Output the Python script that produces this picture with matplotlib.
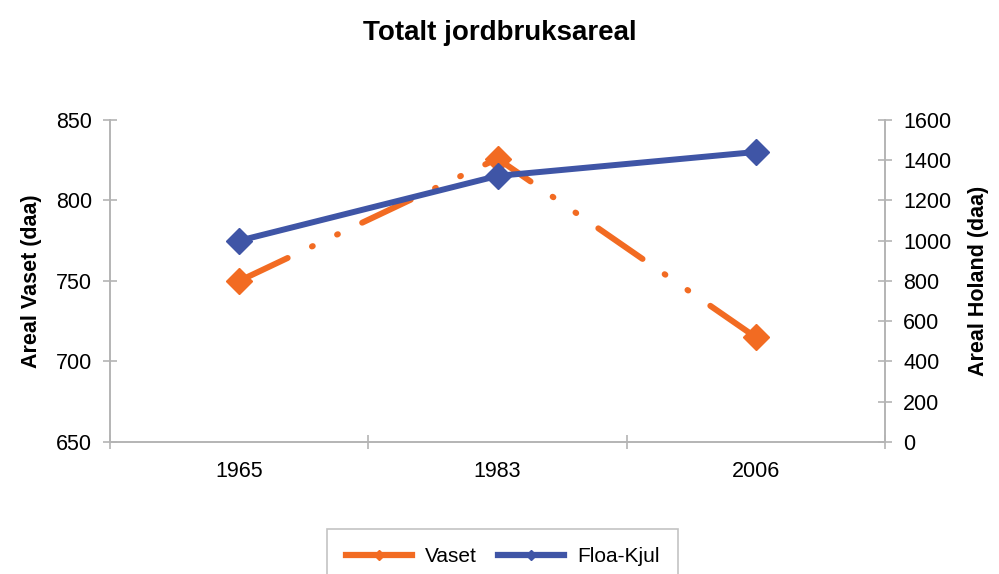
import matplotlib.pyplot as plt
from matplotlib.lines import Line2D

plt.rcParams['font.family'] = ['Liberation Sans', 'DejaVu Sans']

# Data
years = ['1965', '1983', '2006']
vaset = [750, 826, 715]
floa_kjul = [1000, 1322, 1441]

orange = '#F26B22'
blue = '#3F55A6'
grey = '#B4B4B4'

fig = plt.figure(figsize=(9.99, 5.74), dpi=100)
ax = fig.add_axes([0.110, 0.230, 0.776, 0.561])
ax2 = ax.twinx()

x = list(range(len(years)))

# Vaset on left axis (dash-dot-dot)
ax.plot(x, vaset, color=orange, lw=4.3, marker='D', markersize=13,
        dashes=(9.0, 4.5, 0.15, 4.5, 0.15, 4.5), dash_capstyle='round',
        zorder=3)
# Floa-Kjul on right axis
ax2.plot(x, floa_kjul, color=blue, lw=4.3, marker='D', markersize=13,
         zorder=3)

ax.set_xlim(-0.5, 2.5)
ax.set_ylim(650, 850)
ax.set_yticks([650, 700, 750, 800, 850])
ax2.set_ylim(0, 1600)
ax2.set_yticks(range(0, 1601, 200))

ax.set_xticks(x)
ax.set_xticklabels(years)
ax.set_xticks([-0.5, 0.5, 1.5, 2.5], minor=True)
ax.tick_params(axis='x', which='major', length=0, pad=14, labelsize=15.5)
ax.tick_params(axis='x', which='minor', length=10, direction='inout',
               color=grey, width=1.2)

ax.tick_params(axis='y', length=10, direction='inout', color=grey,
               width=1.2, labelsize=15.5, pad=8)
ax2.tick_params(axis='y', length=10, direction='inout', color=grey,
                width=1.2, labelsize=15.5, pad=8)

for a in (ax, ax2):
    a.spines['top'].set_visible(False)
    for s in ('left', 'right', 'bottom'):
        a.spines[s].set_color(grey)
        a.spines[s].set_linewidth(1.2)

ax.set_ylabel('Areal Vaset (daa)', fontsize=15.5, fontweight='bold', labelpad=10)
ax2.set_ylabel('Areal Holand (daa)', fontsize=15.5, fontweight='bold', labelpad=12)

fig.suptitle('Totalt jordbruksareal', x=0.5, y=0.965, fontsize=20,
             fontweight='bold')

handles = [
    Line2D([], [], color=orange, lw=4.5, marker='D', markersize=5),
    Line2D([], [], color=blue, lw=4.5, marker='D', markersize=5),
]
leg = fig.legend(handles, ['Vaset', 'Floa-Kjul'], loc='upper center',
                 bbox_to_anchor=(0.503, 0.097), ncol=2, fontsize=15,
                 frameon=True, fancybox=False, edgecolor=grey,
                 handlelength=3.2, handletextpad=0.6, columnspacing=1.0,
                 borderpad=0.9)
leg.get_frame().set_linewidth(1.2)

fig.savefig('out.png', dpi=100)
